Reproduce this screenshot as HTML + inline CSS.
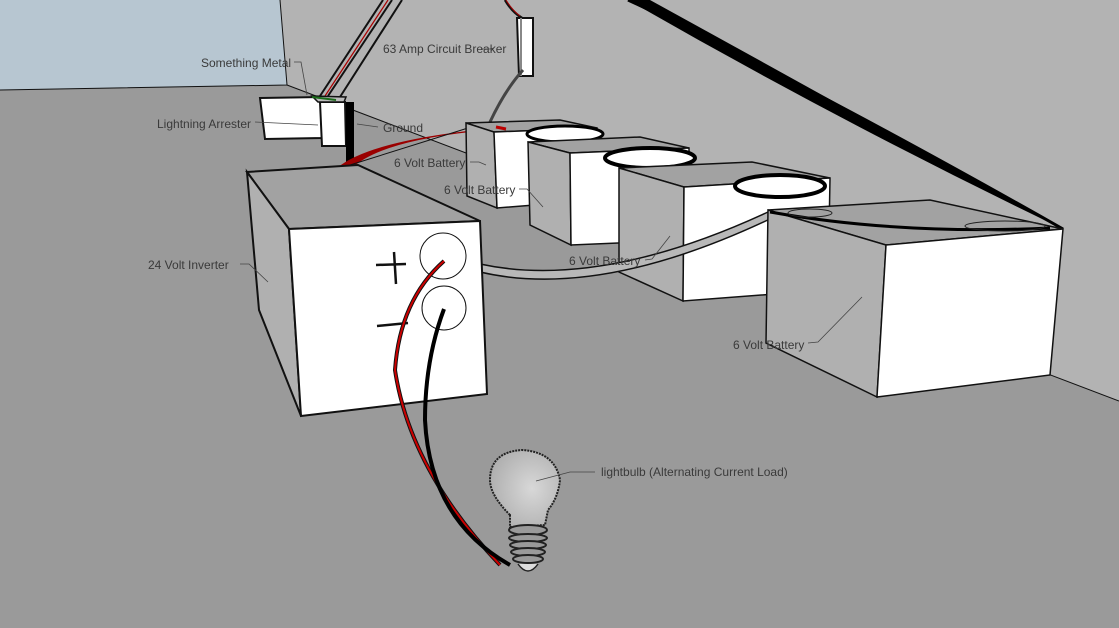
<!DOCTYPE html>
<html><head><meta charset="utf-8"><style>
html,body{margin:0;padding:0;background:#9a9a9a;}
svg{display:block}
text{font-family:"Liberation Sans",sans-serif;font-size:12px;fill:#3a3a3a}
</style></head><body>
<svg width="1119" height="628" viewBox="0 0 1119 628" xmlns="http://www.w3.org/2000/svg">
<defs>
<radialGradient id="bg" cx="0.6" cy="0.5" r="0.6"><stop offset="0" stop-color="#d8d8d8"/><stop offset="1" stop-color="#b0b0b0"/></radialGradient>
</defs>
<rect x="0" y="0" width="1119" height="628" fill="#9a9a9a"/>
<polygon points="280,0 1119,0 1119,401 287,85" fill="#b3b3b3"/>
<polygon points="0,0 280,0 287,85 0,90" fill="#b7c6d1"/>
<polyline points="0,90 287,85 280,0" fill="none" stroke="#111" stroke-width="1"/>
<line x1="287" y1="85" x2="1119" y2="401" stroke="#111" stroke-width="1"/>

<path d="M628,0 L650,0 Q850,110 1063,229 Q840,122 628,0 Z" fill="#000"/>
<path d="M628,0 Q800,80 1063,229" fill="none" stroke="#000" stroke-width="3"/>

<path d="M383,0 L320,96 M392,0 L328,96 M402,0 L340,97" stroke="#111" stroke-width="2" fill="none"/>
<path d="M388,0 L325,96" stroke="#a00" stroke-width="1.2" fill="none"/>
<path d="M505,0 Q512,12 522,18" stroke="#111" stroke-width="2.5" fill="none"/>
<path d="M506,0 Q512,10 520,16" stroke="#a00" stroke-width="1" fill="none"/>
<polygon points="517,18 533,18 533,76 519,76" fill="#fff" stroke="#111" stroke-width="2"/>
<line x1="521" y1="18" x2="521" y2="76" stroke="#888" stroke-width="2"/>
<path d="M523,70 Q505,90 490,122" stroke="#444" stroke-width="3" fill="none"/>

<polygon points="260,98 322,97 322,138 265,139" fill="#fff" stroke="#111" stroke-width="2"/>
<polygon points="320,102 345,102 346,146 322,146" fill="#fff" stroke="#111" stroke-width="2"/>
<polygon points="312,96 346,97 344,102 318,102" fill="#bbb" stroke="#111" stroke-width="1.5"/>
<line x1="312" y1="97" x2="336" y2="100" stroke="#1a6b1a" stroke-width="2"/>
<rect x="346" y="102" width="8" height="62" fill="#000"/>
<path d="M337,168 Q370,140 495,128 L470,132 Q380,142 352,168 Z" fill="#9b0000"/>
<line x1="350" y1="165" x2="468" y2="128" stroke="#111" stroke-width="1"/>

<polygon points="466,123 560,120 597,128 494,132" fill="#a2a2a2" stroke="#111" stroke-width="1.5"/>
<polygon points="466,123 494,132 497,208 467,196" fill="#b0b0b0" stroke="#111" stroke-width="1.5"/>
<polygon points="494,132 597,128 597,200 497,208" fill="#fff" stroke="#111" stroke-width="1.5"/>
<path d="M496,127 l10,2" stroke="#b00" stroke-width="3"/>
<ellipse cx="565" cy="134" rx="38" ry="8" fill="#fff" stroke="#000" stroke-width="3"/>

<polygon points="528,142 640,137 689,148 570,153" fill="#a2a2a2" stroke="#111" stroke-width="1.5"/>
<polygon points="528,142 570,153 571,245 530,225" fill="#b0b0b0" stroke="#111" stroke-width="1.5"/>
<polygon points="570,153 689,148 690,240 571,245" fill="#fff" stroke="#111" stroke-width="1.5"/>
<ellipse cx="650" cy="158" rx="45" ry="10" fill="#fff" stroke="#000" stroke-width="4"/>

<polygon points="619,168 752,162 830,178 684,187" fill="#a2a2a2" stroke="#111" stroke-width="1.5"/>
<polygon points="619,168 684,187 683,301 619,272" fill="#b0b0b0" stroke="#111" stroke-width="1.5"/>
<polygon points="684,187 830,178 828,290 683,301" fill="#fff" stroke="#111" stroke-width="1.5"/>
<ellipse cx="780" cy="186" rx="45" ry="11" fill="#fff" stroke="#000" stroke-width="4"/>

<path d="M480,264 Q600,290 768,212 L772,218 Q600,300 480,272 Z" fill="#b8b8b8" stroke="#111" stroke-width="1.5"/>

<polygon points="768,210 930,200 1063,229 886,245" fill="#a2a2a2" stroke="#111" stroke-width="1.5"/>
<polygon points="768,210 886,245 877,397 766,343" fill="#b0b0b0" stroke="#111" stroke-width="1.5"/>
<polygon points="886,245 1063,229 1050,375 877,397" fill="#fff" stroke="#111" stroke-width="1.5"/>
<path d="M770,212 Q900,235 1050,228" stroke="#000" stroke-width="3" fill="none"/>
<ellipse cx="1005" cy="226" rx="40" ry="5" fill="none" stroke="#222" stroke-width="1"/>
<ellipse cx="810" cy="213" rx="22" ry="4" fill="none" stroke="#222" stroke-width="1"/>

<polygon points="247,172 358,165 480,221 289,229" fill="#a2a2a2" stroke="#111" stroke-width="2"/>
<polygon points="247,172 289,229 301,416 259,310" fill="#b0b0b0" stroke="#111" stroke-width="2"/>
<polygon points="289,229 480,221 487,394 301,416" fill="#fff" stroke="#111" stroke-width="2"/>
<circle cx="443" cy="256" r="23" fill="none" stroke="#111" stroke-width="1"/>
<circle cx="444" cy="308" r="22" fill="none" stroke="#111" stroke-width="1"/>
<path d="M376,265 L406,264 M394,252 L396,284" stroke="#111" stroke-width="2.5"/>
<path d="M377,326 L408,323" stroke="#111" stroke-width="2.5"/>

<path d="M444,261 Q400,300 395,370 Q410,470 500,565" stroke="#111" stroke-width="4" fill="none"/>
<path d="M444,261 Q400,300 395,370 Q410,470 500,565" stroke="#c00" stroke-width="2" fill="none"/>
<path d="M444,309 Q425,360 425,420 Q430,520 510,565" stroke="#000" stroke-width="4" fill="none"/>

<path d="M510,515 Q490,495 490,480 Q490,452 522,450 Q555,452 560,480 Q558,498 548,510 L545,525 L510,527 Z" fill="url(#bg)" stroke="#222" stroke-width="2" stroke-dasharray="2,1"/>
<g stroke="#222" stroke-width="2" fill="#9a9a9a">
<ellipse cx="528" cy="530" rx="19" ry="5"/>
<ellipse cx="528" cy="538" rx="19" ry="4"/>
<ellipse cx="528" cy="545" rx="18" ry="4"/>
<ellipse cx="528" cy="552" rx="17" ry="4"/>
<ellipse cx="528" cy="559" rx="15" ry="4"/>
</g>
<path d="M518,564 Q528,578 538,564" fill="#ddd" stroke="#222" stroke-width="1.5"/>

<g stroke="#444" stroke-width="0.8" fill="none">
<polyline points="294,62 301,62 307,95"/>
<polyline points="481,49 490,49 494,48"/>
<polyline points="255,122 318,125"/>
<polyline points="378,127 357,124"/>
<polyline points="470,162 479,162 486,165"/>
<polyline points="519,189 527,189 543,207"/>
<polyline points="645,260 652,259 670,236"/>
<polyline points="808,343 818,342 862,297"/>
<polyline points="240,264 249,264 268,282"/>
<polyline points="595,472 570,472 536,481"/>
</g>
<text x="201" y="67">Something Metal</text>
<text x="383" y="53">63 Amp Circuit Breaker</text>
<text x="157" y="128">Lightning Arrester</text>
<text x="383" y="132">Ground</text>
<text x="394" y="167">6 Volt Battery</text>
<text x="444" y="194">6 Volt Battery</text>
<text x="569" y="265">6 Volt Battery</text>
<text x="733" y="349">6 Volt Battery</text>
<text x="148" y="269">24 Volt Inverter</text>
<text x="601" y="476">lightbulb (Alternating Current Load)</text>
</svg>
</body></html>
